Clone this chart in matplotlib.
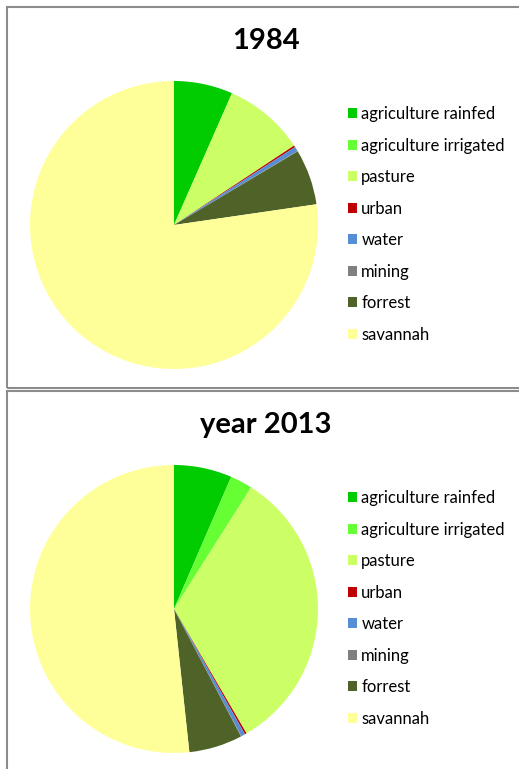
import matplotlib.pyplot as plt
from matplotlib.patches import Rectangle

# land use shares (%)
classes = ["agriculture rainfed", "agriculture irrigated", "pasture", "urban",
           "water", "mining", "forrest", "savannah"]
share_1984 = [6.6, 0.0, 9.1, 0.2, 0.5, 0.05, 6.25, 77.3]
share_2013 = [6.5, 2.5, 32.6, 0.2, 0.45, 0.05, 6.0, 51.7]
titles = ["1984", "year 2013"]

colors = ["#00CC00", "#66FF33", "#CCFF66", "#C00000",
          "#558ED5", "#808080", "#4F6228", "#FFFF99"]

plt.rcParams["font.family"] = ["Lato", "DejaVu Sans"]

W, H = 519, 769
fig = plt.figure(figsize=(W / 100, H / 100), dpi=100)


def px(x, y, w, h):
    # pixel box (top-left origin) -> figure fraction
    return [x / W, 1 - (y + h) / H, w / W, h / H]


# chart frames
for y0, y1 in [(7, 388), (391, 790)]:
    fig.patches.append(Rectangle((7 / W, 1 - y1 / H), (530 - 7) / W, (y1 - y0) / H,
                                 transform=fig.transFigure, fill=False,
                                 edgecolor="#8c8c8c", linewidth=1.5))

panels = [(share_1984, 0), (share_2013, 384)]
r = 144
for (vals, dy), title in zip(panels, titles):
    cx, cy = 174, 225 + dy
    ax = fig.add_axes(px(cx - r, cy - r, 2 * r, 2 * r))
    wedges, _ = ax.pie(vals, colors=colors, startangle=90, counterclock=False,
                       radius=1, wedgeprops=dict(linewidth=0))
    ax.set_xlim(-1, 1)
    ax.set_ylim(-1, 1)
    ax.axis("off")

    fig.text(266 / W, 1 - (41 + dy) / H, title, ha="center", va="center",
             fontsize=21, fontweight="bold")

    fig.legend(wedges, classes, loc="upper left",
               bbox_to_anchor=(348 / W, 1 - (106 + dy) / H),
               frameon=False, fontsize=12, handlelength=0.55, handleheight=0.55,
               handletextpad=0.25, labelspacing=0.93, borderpad=0,
               borderaxespad=0)

plt.savefig("out.png", dpi=100)
